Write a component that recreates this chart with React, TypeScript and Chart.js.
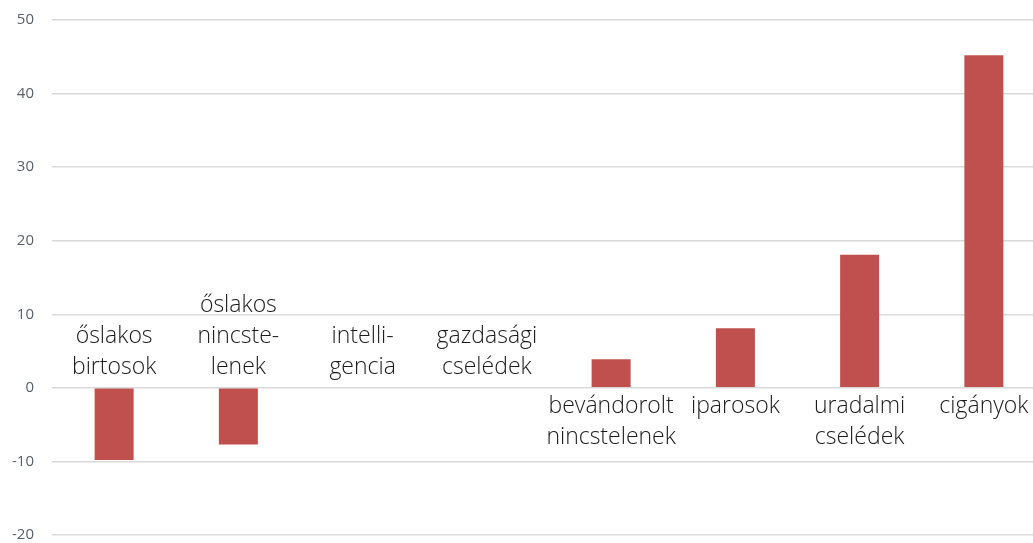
import React, { useEffect, useRef } from "react";
import { Chart, registerables } from "chart.js";

Chart.register(...registerables);

const categories = [
  "őslakos birtosok",
  "őslakos nincstelenek",
  "intelligencia",
  "gazdasági cselédek",
  "bevándorolt nincstelenek",
  "iparosok",
  "uradalmi cselédek",
  "cigányok",
];

const labelLines: string[][] = [
  ["őslakos", "birtosok"],
  ["őslakos", "nincste-", "lenek"],
  ["intelli-", "gencia"],
  ["gazdasági", "cselédek"],
  ["bevándorolt", "nincstelenek"],
  ["iparosok"],
  ["uradalmi", "cselédek"],
  ["cigányok"],
];

const values = [-9.8, -7.7, 0, 0, 3.9, 8.1, 18.1, 45.2];

const yMin = -20;
const yMax = 50;
const yStep = 10;

const categoryLabelPlugin = {
  id: "categoryLabels",
  afterDatasetsDraw(chart: any) {
    const { ctx, scales } = chart;
    const xs = scales.x;
    const ys = scales.y;
    const zero = ys.getPixelForValue(0);
    const lh = 31;
    ctx.save();
    ctx.font = "300 23px 'Open Sans', sans-serif";
    ctx.fillStyle = "#1a1a1a";
    ctx.textAlign = "center";
    ctx.textBaseline = "middle";
    labelLines.forEach((lines, i) => {
      const x = xs.getPixelForValue(i);
      const v = values[i];
      if (v <= 0) {
        const lastY = zero - 20;
        lines.forEach((t, j) => {
          ctx.fillText(t, x, lastY - (lines.length - 1 - j) * lh);
        });
      } else {
        const firstY = zero + 19;
        lines.forEach((t, j) => {
          ctx.fillText(t, x, firstY + j * lh);
        });
      }
    });
    ctx.restore();
  },
};

export default function App() {
  const ref = useRef<HTMLCanvasElement | null>(null);

  useEffect(() => {
    if (!ref.current) return;
    const chart = new Chart(ref.current, {
      type: "bar",
      data: {
        labels: categories,
        datasets: [
          {
            data: values,
            backgroundColor: "#C0504D",
            borderWidth: 0,
            categoryPercentage: 1,
            barPercentage: 0.314,
          },
        ],
      },
      options: {
        responsive: false,
        animation: false,
        layout: { padding: { top: 20, bottom: 8, right: 14, left: 0 } },
        plugins: {
          legend: { display: false },
          tooltip: { enabled: false },
        },
        scales: {
          x: {
            display: false,
          },
          y: {
            min: yMin,
            max: yMax,
            afterFit(scale: any) {
              scale.width = 52;
              scale.paddingTop = 0;
              scale.paddingBottom = 0;
            },
            ticks: {
              stepSize: yStep,
              color: "#5a5f66",
              font: { family: "'Open Sans', sans-serif", size: 15 },
              padding: 18,
            },
            grid: {
              color: "#d9d9d9",
              lineWidth: 1.5,
              drawTicks: false,
            },
            border: { display: false },
          },
        },
      },
      plugins: [categoryLabelPlugin],
    });
    return () => chart.destroy();
  }, []);

  return (
    <div
      style={{
        position: "absolute",
        left: 0,
        top: 0,
        width: 1033,
        height: 543,
        overflow: "hidden",
        background: "#ffffff",
      }}
    >
      <canvas ref={ref} width={1060} height={543} style={{ width: 1060, height: 543, display: "block" }} />
    </div>
  );
}
